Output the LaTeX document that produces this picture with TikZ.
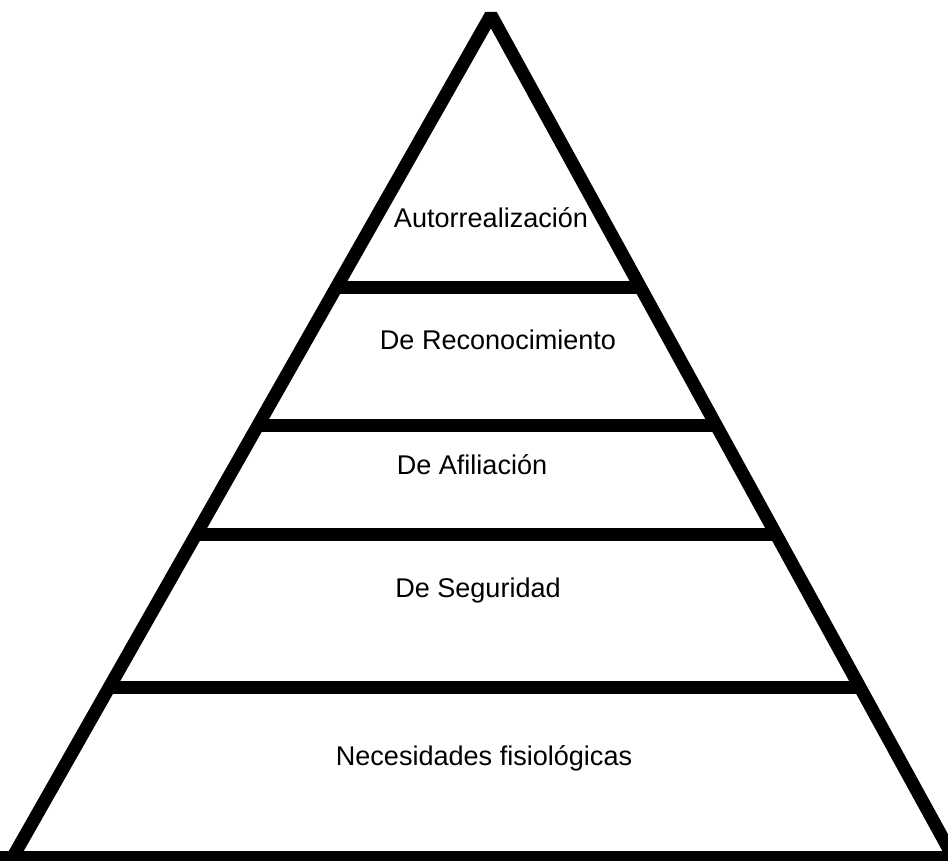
\documentclass[tikz,border=0pt]{standalone}
\usepackage{fontspec}
\setmainfont{Liberation Sans}
\usetikzlibrary{calc}
\definecolor{ink}{HTML}{000000}

\begin{document}
\begin{tikzpicture}[font=\fontsize{7.7}{9}\selectfont,line cap=butt,line join=bevel]
  \useasboundingbox (0,0) rectangle (9.48,8.60);

  % Outline of the pyramid
  \coordinate (apex) at (4.91,8.45);
  \coordinate (baseL) at (0.14,0.05);
  \coordinate (baseR) at (9.52,0.05);
  \draw[ink,line width=0.13cm] (baseL)--(apex)--(baseR);
  \draw[ink,line width=0.13cm] (0,0.03)--(9.48,0.03);

  % Levels
  \foreach \t in {0.325,0.489,0.618,0.800}
    \draw[ink,line width=0.13cm] ($(apex)!\t!(baseL)$)--($(apex)!\t!(baseR)$);

  % Labels
  \node[ink] (selfreal) at (4.91,6.42) {Autorrealización};
  \node[ink] (esteem) at (4.98,5.20) {De Reconocimiento};
  \node[ink] (belong) at (4.72,3.95) {De Afiliación};
  \node[ink] (safety) at (4.78,2.70) {De Seguridad};
  \node[ink] (physio) at (4.84,1.02) {Necesidades fisiológicas};
\end{tikzpicture}
\end{document}
